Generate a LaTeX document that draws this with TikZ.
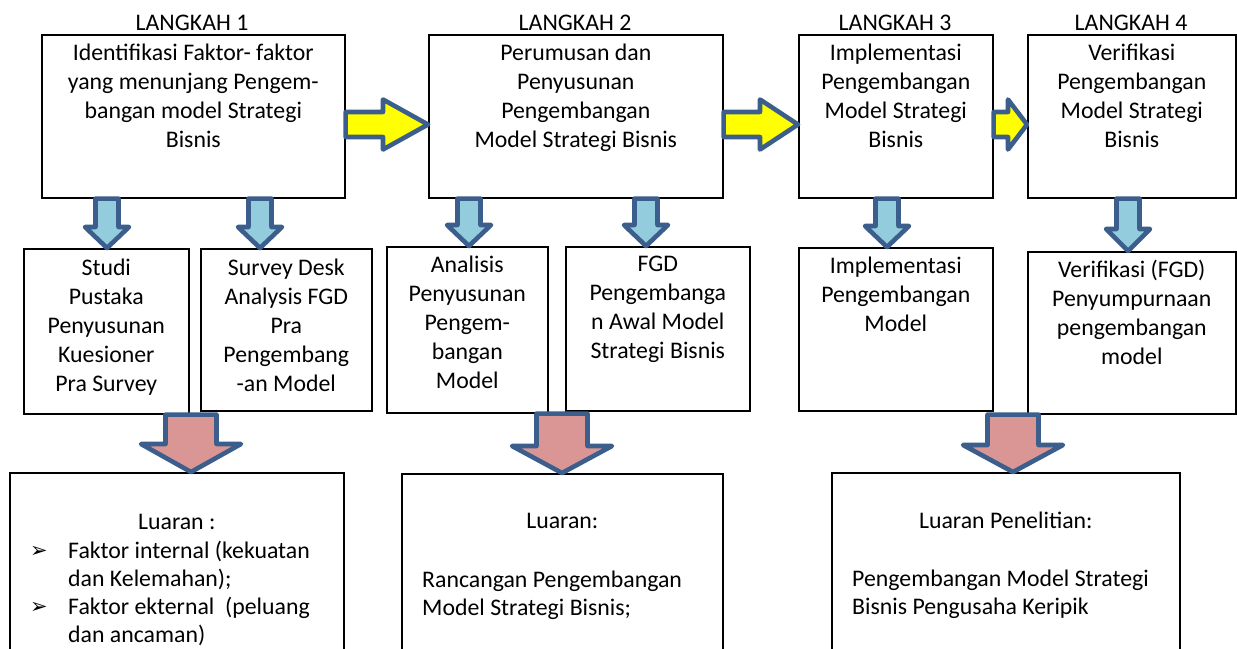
\documentclass[tikz,border=0pt]{standalone}
\usepackage{fontspec}
\setmainfont{Carlito}
\newfontfamily\symfont{DejaVu Sans}
\usetikzlibrary{calc}

\definecolor{edgeblue}{HTML}{3B5E8C}
\definecolor{skyfill}{HTML}{93CDDD}
\definecolor{rosefill}{HTML}{D99694}
\definecolor{lemonfill}{HTML}{FFFF00}

% block arrow pointing right: #1 start, #2 tip, #3 head length, #4 fill
\newcommand\rightblock[4]{%
  \draw[blockline, fill=#4] let \p1=#1, \p2=#2 in
    (\x1,\y1+12.5pt) -- (\x2-#3pt,\y1+12.5pt) -- (\x2-#3pt,\y1+25pt) --
    (\x2,\y1) -- (\x2-#3pt,\y1-25pt) -- (\x2-#3pt,\y1-12.5pt) --
    (\x1,\y1-12.5pt) -- cycle;}
% block arrow pointing down: #1 start, #2 tip, #3 head length,
% #4 shaft half width, #5 head half width, #6 fill
\newcommand\downblock[6]{%
  \draw[blockline, fill=#6] let \p1=#1, \p2=#2 in
    (\x1-#4pt,\y1) -- (\x1-#4pt,\y2+#3pt) -- (\x1-#5pt,\y2+#3pt) --
    (\x2,\y2) -- (\x1+#5pt,\y2+#3pt) -- (\x1+#4pt,\y2+#3pt) --
    (\x1+#4pt,\y1) -- cycle;}

\begin{document}
\begin{tikzpicture}[x=1pt,y=-1pt,
  box/.style={draw=black, line width=1.6pt, anchor=north west, inner sep=0pt},
  txt/.style={anchor=north, inner sep=0pt, align=center, font=\fontsize{23.8}{29}\selectfont},
  line/.style={anchor=base west, inner sep=0pt, font=\fontsize{23.8}{29}\selectfont},
  head/.style={anchor=base, inner sep=0pt, font=\fontsize{23.8}{29}\selectfont},
  bullet/.style={anchor=base west, inner sep=0pt, font=\symfont\fontsize{21}{24}\selectfont},
  blockline/.style={draw=edgeblue, line width=4.6pt, line join=round}]
\clip (0,0) rectangle (1237,648);
\useasboundingbox (0,0) rectangle (1237,648);

% step labels
\node[head] (l1) at (192,30) {LANGKAH 1};
\node[head] (l2) at (575,30) {LANGKAH 2};
\node[head] (l3) at (895,30) {LANGKAH 3};
\node[head] (l4) at (1131,30) {LANGKAH 4};

% step boxes
\node[box, minimum width=303, minimum height=163] (s1) at (41,34) {};
\node[box, minimum width=294, minimum height=163] (s2) at (428,34) {};
\node[box, minimum width=194, minimum height=163] (s3) at (798,34) {};
\node[box, minimum width=208, minimum height=163] (s4) at (1027,34) {};
\node[txt] (ts1) at ($(s1.north)+(0,10)$) {Identifikasi Faktor- faktor\\yang menunjang Pengem-\\bangan model Strategi\\Bisnis};
\node[txt] (ts2) at ($(s2.north)+(0,10)$) {Perumusan dan\\Penyusunan\\Pengembangan\\Model Strategi Bisnis};
\node[txt] (ts3) at ($(s3.north)+(0,10)$) {Implementasi\\Pengembangan\\Model Strategi\\Bisnis};
\node[txt] (ts4) at ($(s4.north)+(0,10)$) {Verifikasi\\Pengembangan\\Model Strategi\\Bisnis};

% activity boxes
\node[box, minimum width=165, minimum height=165] (c1) at (23,248) {};
\node[box, minimum width=171, minimum height=162] (c2) at (200,248) {};
\node[box, minimum width=161, minimum height=166] (c3) at (386,246) {};
\node[box, minimum width=184, minimum height=164] (c4) at (565,246) {};
\node[box, minimum width=194, minimum height=163] (c5) at (798,247) {};
\node[box, minimum width=208, minimum height=162] (c6) at (1027,251) {};
\node[txt] (tc1) at ($(c1.north)+(0,10.5)$) {Studi\\Pustaka\\Penyusunan\\Kuesioner\\Pra Survey};
\node[txt] (tc2) at ($(c2.north)+(0,10.5)$) {Survey Desk\\Analysis FGD\\Pra\\Pengembang\\-an Model};
\node[txt] (tc3) at ($(c3.north)+(0,9.5)$) {Analisis\\Penyusunan\\Pengem-\\bangan\\Model};
\node[txt] (tc4) at ($(c4.north)+(0,9.5)$) {FGD\\Pengembanga\\n Awal Model\\Strategi Bisnis};
\node[txt] (tc5) at ($(c5.north)+(0,9.5)$) {Implementasi\\Pengembangan\\Model};
\node[txt] (tc6) at ($(c6.north)+(0,9)$) {Verifikasi (FGD)\\Penyumpurnaan\\pengembangan\\model};

% output boxes
\node[box, minimum width=334, minimum height=200] (o1) at (9,472) {};
\node[box, minimum width=321, minimum height=200] (o2) at (401,473) {};
\node[box, minimum width=348, minimum height=200] (o3) at (831,472) {};

\node[head] (h1) at ($(o1.north)+(0,57)$) {Luaran :};
\node[bullet] (b1) at (30,557) {➢};
\node[line] (p1) at (68,558) {Faktor internal (kekuatan};
\node[line] (p2) at (68,586) {dan Kelemahan);};
\node[bullet] (b2) at (30,613) {➢};
\node[line] (p3) at (68,614) {Faktor ekternal\ \ (peluang};
\node[line] (p4) at (68,642) {dan ancaman)};

\node[head] (h2) at ($(o2.north)+(0,55)$) {Luaran:};
\node[line] (q1) at (422,587) {Rancangan Pengembangan};
\node[line] (q2) at (422,615) {Model Strategi Bisnis;};

\node[head] (h3) at ($(o3.north)+(0,56)$) {Luaran Penelitian:};
\node[line] (r1) at (852,586) {Pengembangan Model Strategi};
\node[line] (r2) at (852,614) {Bisnis Pengusaha Keripik};

% arrow axes
\coordinate (ay) at (0,124.5);
\coordinate (ax1) at (107,0);
\coordinate (ax2) at (260,0);
\coordinate (ax3) at (469,0);
\coordinate (ax4) at (646,0);
\coordinate (ax5) at (887,0);
\coordinate (ax6) at (1128,0);
\coordinate (ar1) at (191,0);
\coordinate (ar2) at (562,0);
\coordinate (ar3) at (1013,0);

% yellow step-to-step arrows
\rightblock{(s1.east |- ay)}{(s2.west |- ay)}{45}{lemonfill}
\rightblock{(s2.east |- ay)}{(s3.west |- ay)}{38}{lemonfill}
\rightblock{(s3.east |- ay)}{(s4.west |- ay)}{19}{lemonfill}

% blue step-to-activity arrows
\downblock{(s1.south -| ax1)}{(c1.north -| ax1)}{21}{11.5}{22}{skyfill}
\downblock{(s1.south -| ax2)}{(c2.north -| ax2)}{21}{11.5}{22}{skyfill}
\downblock{(s2.south -| ax3)}{(c3.north -| ax3)}{21}{11.5}{22}{skyfill}
\downblock{(s2.south -| ax4)}{(c4.north -| ax4)}{21}{11.5}{22}{skyfill}
\downblock{(s3.south -| ax5)}{(c5.north -| ax5)}{21}{11.5}{22}{skyfill}
\downblock{(s4.south -| ax6)}{(c6.north -| ax6)}{22}{11.5}{22}{skyfill}

% red activity-to-output arrows
\downblock{(c1.south -| ar1)}{(o1.north -| ar1)}{28}{25.5}{50}{rosefill}
\downblock{(c3.south -| ar2)}{(o2.north -| ar2)}{27}{25.5}{50}{rosefill}
\downblock{(c6.south -| ar3)}{(o3.north -| ar3)}{27}{25.5}{50}{rosefill}
\end{tikzpicture}
\end{document}
